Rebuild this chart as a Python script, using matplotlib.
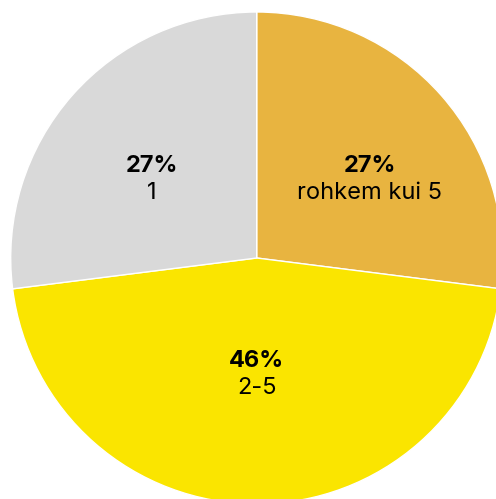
import numpy as np
import matplotlib.pyplot as plt

categories = ['rohkem kui 5', '2-5', '1']
shares = [27, 46, 27]
colors = ['#E8B440', '#FAE500', '#D9D9D9']

plt.rcParams['font.family'] = ['Inter', 'DejaVu Sans']

fig = plt.figure(figsize=(4.96, 4.99), dpi=100)
ax = fig.add_axes([0, 0, 1, 1])

wedges, _ = ax.pie(shares, colors=colors, startangle=90, counterclock=False,
                   radius=1.0, wedgeprops=dict(edgecolor='white', linewidth=1.0))

# label each slice near its centroid
for w, pct, cat in zip(wedges, shares, categories):
    theta = np.deg2rad((w.theta1 + w.theta2) / 2)
    half = np.deg2rad(w.theta2 - w.theta1) / 2
    d = 2 * np.sin(half) / (3 * half)
    x, y = d * np.cos(theta), d * np.sin(theta)
    top = -3 if y > 0 else 7
    dx = 3 if y > 0 else 0
    ax.annotate(f'{pct}%', (x, y), xytext=(dx, top), textcoords='offset points',
                ha='center', va='center', fontsize=17, fontweight='bold')
    ax.annotate(cat, (x, y), xytext=(dx, top - 19.5), textcoords='offset points',
                ha='center', va='center', fontsize=17)

ax.set_xlim(-1.0435, 0.9728)
ax.set_ylim(-0.9797, 1.0488)
ax.set_aspect('auto')
ax.axis('off')

fig.savefig('out.png', dpi=100)
